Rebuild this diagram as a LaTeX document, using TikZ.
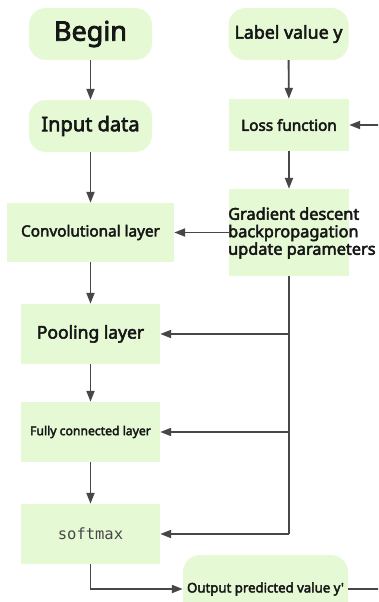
\documentclass[tikz,border=0pt]{standalone}
\usepackage{fontspec}
\setmainfont{Noto Sans}
\newfontfamily\medfont[FakeBold=3]{Noto Sans}
\newfontfamily\codefont{DejaVu Sans Mono}
\usetikzlibrary{arrows.meta}
\definecolor{boxfill}{HTML}{E5F9D5}
\definecolor{linec}{HTML}{474747}
\definecolor{txt}{HTML}{161616}

\begin{document}
\begin{tikzpicture}[x=1pt,y=-1pt,
  stepbox/.style={fill=boxfill, draw=none, inner sep=0pt, text=txt,
    font=\medfont, minimum width=#1},
  roundbox/.style={stepbox=#1, rounded corners=17pt},
  flow/.style={draw=linec, line width=1.9pt,
    -{Triangle[length=11pt,width=8pt]}},
  plain/.style={draw=linec, line width=1.9pt}
]
\clip (0,0) rectangle (378,602);
\fill[white] (0,0) rectangle (378,602);

% left column: forward pass
\node[roundbox=123pt, minimum height=52pt, font=\medfont\fontsize{27}{29}\selectfont]
  (begin) at (90.5,34) {Begin};
\node[roundbox=123pt, minimum height=52pt, font=\medfont\fontsize{20}{22}\selectfont]
  (input) at (90.5,126) {Input data};
\node[stepbox=167pt, minimum height=59pt, font=\medfont\fontsize{15.3}{17}\selectfont]
  (conv) at (90.5,232.5) {Convolutional layer};
\node[stepbox=139pt, minimum height=60pt, font=\medfont\fontsize{17.5}{19}\selectfont]
  (pool) at (90.5,334) {Pooling layer};
\node[stepbox=139pt, minimum height=60pt, font=\medfont\fontsize{12.2}{14}\selectfont]
  (fc) at (90.5,432) {Fully connected layer};
\node[stepbox=139pt, minimum height=60pt, text=linec, font=\codefont\fontsize{15.5}{17}\selectfont]
  (soft) at (90.5,534) {softmax};
\node[roundbox=165pt, minimum height=68pt, font=\medfont\fontsize{13.2}{15}\selectfont]
  (out) at (265.5,589) {Output predicted value y'};

% right column: training loop
\node[roundbox=120pt, minimum height=52pt, font=\medfont\fontsize{17.8}{19}\selectfont]
  (label) at (288.5,34) {Label value y};
\node[stepbox=120pt, minimum height=52pt, font=\medfont\fontsize{15.3}{17}\selectfont]
  (loss) at (289,125) {Loss function};
\node[stepbox=120pt, minimum height=87pt] (grad) at (289,232.5) {};
\node[anchor=west, inner sep=0pt, align=left, text=txt,
  font=\medfont\fontsize{16.3}{17.5}\selectfont]
  (gradtext) at (228,233) {Gradient descent\\backpropagation\\update parameters};

% forward arrows
\draw[flow] (begin) -- (input);
\draw[flow] (input) -- (conv);
\draw[flow] (conv) -- (pool);
\draw[flow] (pool) -- (fc);
\draw[flow] (fc) -- (soft);
\draw[flow] (soft.south) |- (out.west);

% label and loss
\draw[flow] (label) -- (loss);
\draw[flow] (loss) -- (grad);

% parameter updates
\coordinate (g1) at (289,334);
\coordinate (g2) at (289,432);
\coordinate (g3) at (289,534);
\draw[flow] (grad.west) -- (conv.east);
\draw[plain] (grad.south) -- (g3);
\draw[flow] (g1) -- (pool.east);
\draw[flow] (g2) -- (fc.east);
\draw[flow] (g3) -- (soft.east);

% loop back from the prediction to the loss
\coordinate (outend) at (380,589);
\coordinate (lossin) at (380,125);
\draw[plain] (out.east) -- (outend);
\draw[flow] (lossin) -- (loss.east);
\end{tikzpicture}
\end{document}
